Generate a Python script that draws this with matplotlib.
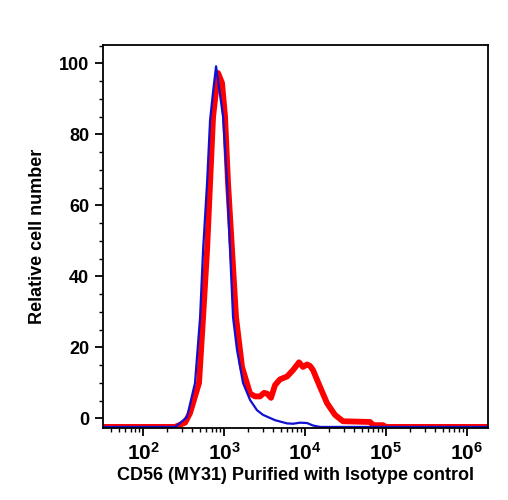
import matplotlib
matplotlib.use("Agg")
import matplotlib.pyplot as plt
from matplotlib.ticker import LogLocator, FixedLocator, MultipleLocator, FuncFormatter, NullFormatter
import numpy as np

# isotype control (blue, thin)
iso_x = [32, 248, 263, 349, 438, 506, 551, 617, 672, 732, 797, 870, 973, 1089, 1186,
         1292, 1446, 1716, 2095, 2555, 3029, 4266, 5998, 7112, 8677, 10585, 12560,
         15320, 1820000]
iso_y = [-2.4, -2.4, -2.0, 0.4, 10, 28.5, 47.4, 66.3, 84, 92, 99.2, 93, 85, 66.3, 47.4,
         28.5, 19.3, 10, 5.2, 2.3, 1.0, -0.5, -1.4, -1.5, -1.2, -1.3, -2.0,
         -2.4, -2.4]

# CD56 (MY31) purified (red, thick)
cd56_x = [32, 248, 286, 330, 380, 491, 551, 617, 672, 732, 844, 944, 1029, 1120, 1256,
          1407, 1667, 2095, 2415, 2782, 3118, 3393, 3802, 4266, 4910, 5998, 7112,
          8440, 9441, 10585, 11530, 12560, 15320, 18700, 23450, 29440, 63400, 70000,
          91800, 100000, 122000, 1820000]
cd56_y = [-2.4, -2.4, -1.8, -1.2, 1.5, 10, 28.5, 47.4, 66.3, 85, 97.3, 94.5, 85, 66.3, 47.4,
          28.5, 14.5, 7.0, 6.2, 6.2, 7.2, 7.0, 5.8, 9.4, 11.0, 11.8, 13.6,
          15.8, 14.5, 15.2, 14.8, 13.6, 8.9, 4.3, 1.0, -0.8, -1.0, -1.9,
          -1.9, -2.4, -2.4, -2.4]

y_ticks = [0, 20, 40, 60, 80, 100]
x_decades = [2, 3, 4, 5, 6]

plt.rcParams['font.family'] = ['Liberation Sans', 'DejaVu Sans']
plt.rcParams['font.weight'] = 'bold'
plt.rcParams['mathtext.fontset'] = 'custom'
plt.rcParams['mathtext.rm'] = 'Liberation Sans:bold'
plt.rcParams['mathtext.bf'] = 'Liberation Sans:bold'
plt.rcParams['mathtext.it'] = 'Liberation Sans:bold'

fig = plt.figure(figsize=(5.08, 5.0), dpi=100)
ax = fig.add_axes([0.2028, 0.144, 0.7578, 0.766])

ax.plot(cd56_x, cd56_y, color='#ff0000', linewidth=4.2, solid_capstyle='round', solid_joinstyle='round')
ax.plot(iso_x, iso_y, color='#1010d0', linewidth=1.6)

ax.set_xscale('log')
ax.set_xlim(32, 1.82e6)
ax.set_ylim(-2.7, 105.2)

ax.xaxis.set_major_locator(FixedLocator([10.0 ** d for d in x_decades]))
ax.xaxis.set_major_formatter(FuncFormatter(lambda v, p: r'$\mathbf{10^{%d}}$' % round(np.log10(v))))
ax.xaxis.set_minor_locator(LogLocator(base=10, subs=np.arange(2, 10)))
ax.xaxis.set_minor_formatter(NullFormatter())

ax.yaxis.set_major_locator(FixedLocator(y_ticks))
ax.yaxis.set_minor_locator(MultipleLocator(5))

ax.tick_params(which='major', length=6, width=1.3, pad=4)
ax.tick_params(axis='y', which='major', labelsize=13)
ax.tick_params(axis='x', which='major', labelsize=15, pad=4)
ax.tick_params(which='minor', length=3, width=1.0)
for s in ax.spines.values():
    s.set_linewidth(1.3)

for lab in ax.get_yticklabels():
    lab.set_fontweight('bold')

ax.set_ylabel('Relative cell number', fontsize=13, fontweight='bold', labelpad=9)
ax.set_xlabel('CD56 (MY31) Purified with Isotype control', fontsize=13, fontweight='bold', labelpad=2)

fig.savefig('out.png', dpi=100)
